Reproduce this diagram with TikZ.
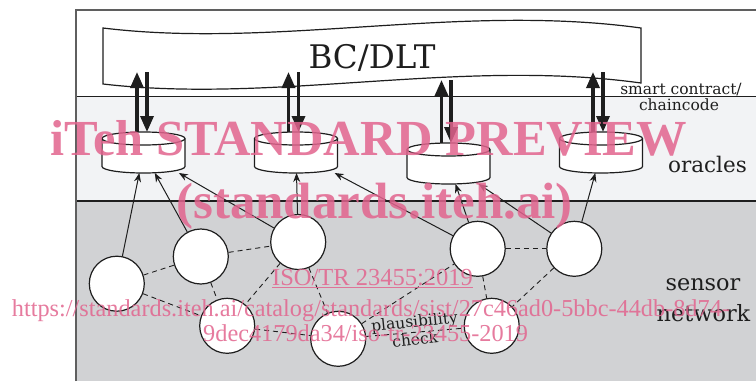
\documentclass[tikz,border=0pt]{standalone}
\usepackage{fontspec}
\setmainfont{DejaVu Serif}
\newfontfamily\wmfont{Liberation Serif}
\usetikzlibrary{arrows.meta,calc}
\definecolor{bgl}{RGB}{242,243,245}
\definecolor{bgd}{RGB}{209,210,212}
\definecolor{framec}{RGB}{95,95,95}
\definecolor{ink}{RGB}{30,30,30}
\definecolor{wm}{RGB}{226,100,142}
\tikzset{
 sensor/.style={circle, draw=ink, fill=white, line width=1.2pt, minimum size=55pt, inner sep=0pt},
 oraclebox/.style={rectangle, inner sep=0pt, outer sep=0pt, minimum width=83pt, minimum height=41pt},
 cylline/.style={draw=ink, line width=1.2pt, fill=white},
 bigarrow/.style={draw=ink, line width=3.3pt, -{Triangle[length=16pt,width=13pt]}},
 feed/.style={draw=ink, line width=1pt, -{Stealth[length=9pt,width=7pt]}},
 link/.style={draw=ink, line width=0.9pt, dash pattern=on 5pt off 4pt},
 lbl/.style={text=ink, inner sep=0pt, anchor=base},
 wmark/.style={text=wm, text opacity=0.85, inner sep=0pt, anchor=base west},
}
\newcommand\oraclecyl[1]{%
 \draw[cylline] ($(#1.south west)+(0,-6.5)$) arc[start angle=180,end angle=0,x radius=41.5,y radius=6.5]
   -- ($(#1.north east)+(0,6.5)$) arc[start angle=0,end angle=-180,x radius=41.5,y radius=6.5] -- cycle;
 \draw[cylline, fill=none] ($(#1.north west)+(0,6.5)$) arc[start angle=180,end angle=0,x radius=41.5,y radius=6.5];
}
\begin{document}
\begin{tikzpicture}[x=1pt,y=-1pt]
\useasboundingbox (0,0) rectangle (756,381);
\fill[white] (0,0) rectangle (756,381);
\fill[bgl] (76,96.5) rectangle (756,201);
\fill[bgd] (76,201) rectangle (756,381);
\draw[ink, line width=1.1pt] (76,96.5) -- (756,96.5) (76,201) -- (756,201);
\draw[framec, line width=1.5pt] (76,381) -- (76,10) -- (756,10);

% blockchain banner
\draw[cylline] (103,28) .. controls (275,49) and (460,3) .. (641,28) -- (641,83)
  .. controls (460,58) and (275,104) .. (103,84) -- cycle;
\node[lbl, font=\fontsize{32.5}{36}\selectfont] (bc) at (372,68) {BC/DLT};

% oracles (anchor boxes)
\node[oraclebox] (o1) at (143.5,152.5) {};
\node[oraclebox] (o2) at (296,152.5) {};
\node[oraclebox] (o3) at (448.5,163.5) {};
\node[oraclebox] (o4) at (601,152.5) {};

\coordinate (u1) at (137,72);   \coordinate (d1) at (147,72);
\coordinate (u2) at (288.5,72); \coordinate (d2) at (298.5,72);
\coordinate (u3) at (441.5,80); \coordinate (d3) at (451,80);
\coordinate (u4) at (593,72);   \coordinate (d4) at (603,72);

\foreach \o/\u/\d in {o1/u1/d1,o2/u2/d2,o3/u3/d3,o4/u4/d4}{
  \draw[bigarrow] ($(\o.north -| \u)+(0,6)$) -- (\u);
  \draw[bigarrow] (\d) -- (\o.north -| \d);
}
\oraclecyl{o1}\oraclecyl{o2}\oraclecyl{o3}\oraclecyl{o4}

% sensors
\node[sensor] (s1) at (116.8,283.7) {};
\node[sensor] (s2) at (200.8,256.5) {};
\node[sensor] (s3) at (298.2,242) {};
\node[sensor] (s4) at (227.2,325.8) {};
\node[sensor] (s5) at (338.2,338.8) {};
\node[sensor] (s6) at (477.7,248.8) {};
\node[sensor] (s7) at (574.3,248.8) {};
\node[sensor] (s8) at (491.7,325.8) {};

\foreach \a/\b in {s1/o1,s2/o1,s3/o1,s3/o2,s6/o2,s6/o3,s7/o3,s7/o4}
  \draw[feed] (\a) -- (\b);

\foreach \a/\b in {s1/s2,s2/s3,s1/s4,s2/s4,s3/s4,s4/s5,s3/s5,s5/s6,s5/s8,s6/s7,s6/s8,s7/s8}
  \draw[link] (\a) -- (\b);

% labels
\node[lbl, font=\fontsize{15.5}{18}\selectfont] (sc1) at (681,94.3) {smart contract/};
\node[lbl, font=\fontsize{15.5}{18}\selectfont] (sc2) at (679,110) {chaincode};
\node[lbl, font=\fontsize{21.5}{24}\selectfont] (orl) at (707.5,172.7) {oracles};
\node[lbl, font=\fontsize{22.4}{26}\selectfont] (sn1) at (703,290) {sensor};
\node[lbl, font=\fontsize{22.4}{26}\selectfont] (sn2) at (703.5,321.7) {network};
\node[lbl, font=\fontsize{15.5}{18}\selectfont, rotate=6] (pc1) at (415,327) {plausibility};
\node[lbl, font=\fontsize{15.5}{18}\selectfont, rotate=6] (pc2) at (415.7,345) {check};

% watermark
\node[wmark, font=\wmfont\bfseries\fontsize{50.5}{56}\selectfont] (wm1) at (50,155) {iTeh STANDARD PREVIEW};
\node[wmark, font=\wmfont\bfseries\fontsize{51}{56}\selectfont] (wm2) at (176,218) {(standards.iteh.ai)};
\node[wmark, font=\wmfont\fontsize{24.5}{28}\selectfont] (wm3) at (272,285) {\underline{ISO/TR 23455:2019}};
\node[wmark, font=\wmfont\fontsize{24.3}{28}\selectfont] (wm4) at (11.7,316.7) {https://standards.iteh.ai/catalog/standards/sist/27c46ad0-5bbc-44db-8d74-};
\node[wmark, font=\wmfont\fontsize{24.3}{28}\selectfont] (wm5) at (203,341.7) {9dec4179da34/iso-tr-23455-2019};
\end{tikzpicture}
\end{document}
